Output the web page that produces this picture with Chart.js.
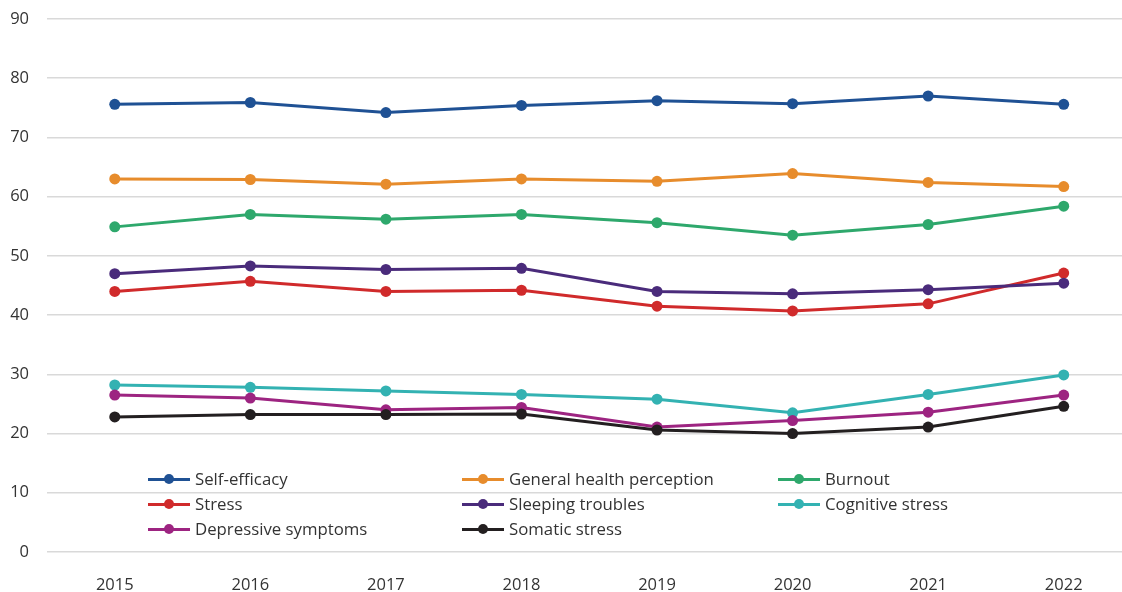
<!DOCTYPE html>
<html>
<head>
<meta charset="utf-8">
<script src="https://cdn.jsdelivr.net/npm/chart.js@4"></script>
<style>
  html, body { margin: 0; padding: 0; background: #fff; }
  #wrap { position: relative; width: 1122px; height: 592px; overflow: hidden; }
  #Chart { display: block; }
  #legend {
    position: absolute; left: 148px; top: 466px;
    display: grid; grid-template-columns: 314px 316px 300px;
    grid-auto-rows: 25px;
    font-family: "Open Sans", sans-serif; font-size: 16.8px; color: #333;
  }
  .item { display: flex; align-items: center; white-space: nowrap; }
  .mark { position: relative; width: 42px; height: 12px; margin-right: 5px; }
  .mark .ln { position: absolute; left: 0; right: 0; top: 5px; height: 3px; }
  .mark .dt { position: absolute; left: 16px; top: 1px; width: 10px; height: 10px; border-radius: 50%; }
</style>
</head>
<body>
<div id="wrap">
  <canvas id="Chart" width="1122" height="592"></canvas>
  <div id="legend"></div>
</div>
<script>
'use strict';
// ********************* DATA ********************
let years = [2015, 2016, 2017, 2018, 2019, 2020, 2021, 2022];
let yTicks = [0, 10, 20, 30, 40, 50, 60, 70, 80, 90];

let seriesNames = ['Self-efficacy', 'General health perception', 'Burnout', 'Stress',
  'Sleeping troubles', 'Cognitive stress', 'Depressive symptoms', 'Somatic stress'];
let seriesColors = ['#1f5194', '#e78c2c', '#2ea86c', '#d02a2b', '#4a2b7b', '#33b2b2', '#9d2481', '#231f20'];

let selfEfficacy = [75.6, 75.9, 74.2, 75.4, 76.2, 75.7, 77.0, 75.6];
let generalHealth = [63.0, 62.9, 62.1, 63.0, 62.6, 63.9, 62.4, 61.7];
let burnout = [54.9, 57.0, 56.2, 57.0, 55.6, 53.5, 55.3, 58.4];
let stress = [44.0, 45.7, 44.0, 44.2, 41.5, 40.7, 41.9, 47.1];
let sleepingTroubles = [47.0, 48.3, 47.7, 47.9, 44.0, 43.6, 44.3, 45.4];
let cognitiveStress = [28.2, 27.8, 27.2, 26.6, 25.8, 23.5, 26.6, 29.9];
let depressiveSymptoms = [26.5, 26.0, 24.0, 24.4, 21.1, 22.2, 23.6, 26.5];
let somaticStress = [22.8, 23.2, 23.2, 23.3, 20.6, 20.0, 21.1, 24.6];

let seriesValues = [selfEfficacy, generalHealth, burnout, stress,
  sleepingTroubles, cognitiveStress, depressiveSymptoms, somaticStress];

// ********************* CANVAS ELEM FOR CHART ********************
let canvasElem = document.getElementById('Chart');

// ********************* HTML LEGEND ********************
function renderLegend() {
  let legend = document.getElementById('legend');
  seriesNames.forEach((name, i) => {
    let item = document.createElement('div');
    item.className = 'item';
    item.innerHTML = '<span class="mark"><span class="ln" style="background:' + seriesColors[i] +
      '"></span><span class="dt" style="background:' + seriesColors[i] + '"></span></span>' +
      '<span>' + name + '</span>';
    legend.appendChild(item);
  });
}

// ********************* THIS FUNCTION RENDERS THE CHART ************************
function renderChart() {
  let datasets = seriesNames.map((name, i) => ({
    label: name,
    data: years.map((yr, j) => ({ x: yr, y: seriesValues[i][j] })),
    borderColor: seriesColors[i],
    backgroundColor: seriesColors[i],
    borderWidth: 3,
    pointRadius: 5.5,
    pointBorderWidth: 0,
    pointHoverRadius: 5.5,
    tension: 0,
    order: seriesNames.length - i
  }));

  let chartObj = {
    type: 'line',
    data: { datasets: datasets },
    options: {
      responsive: false,
      animation: false,
      layout: { autoPadding: false, padding: { top: 19, right: 0, left: 0, bottom: 0 } },
      plugins: { legend: { display: false }, tooltip: { enabled: false } },
      scales: {
        x: {
          type: 'linear',
          min: 2014.5,
          max: 2022.43,
          afterBuildTicks: scale => { scale.ticks = years.map(v => ({ value: v })); },
          afterFit: scale => {
            scale.height = 40;
            scale.paddingLeft = 0; scale.paddingRight = 0;
          },
          grid: { display: false },
          border: { display: false },
          ticks: {
            color: '#333', padding: 15, maxRotation: 0,
            font: { family: 'Open Sans', size: 16.5 },
            callback: v => String(v)
          }
        },
        y: {
          min: 0,
          max: 90,
          afterBuildTicks: scale => { scale.ticks = yTicks.map(v => ({ value: v })); },
          afterFit: scale => {
            scale.width = 47;
            scale.paddingTop = 0; scale.paddingBottom = 0;
          },
          grid: { color: '#d9d9d9', lineWidth: 1.5, drawTicks: false },
          border: { display: false },
          ticks: {
            color: '#333', padding: 18,
            font: { family: 'Open Sans', size: 16.5 }
          }
        }
      }
    }
  };
  new Chart(canvasElem, chartObj);
}

// ******************** EXECUTABLE CODE **************************
renderLegend();
renderChart();
</script>
</body>
</html>
